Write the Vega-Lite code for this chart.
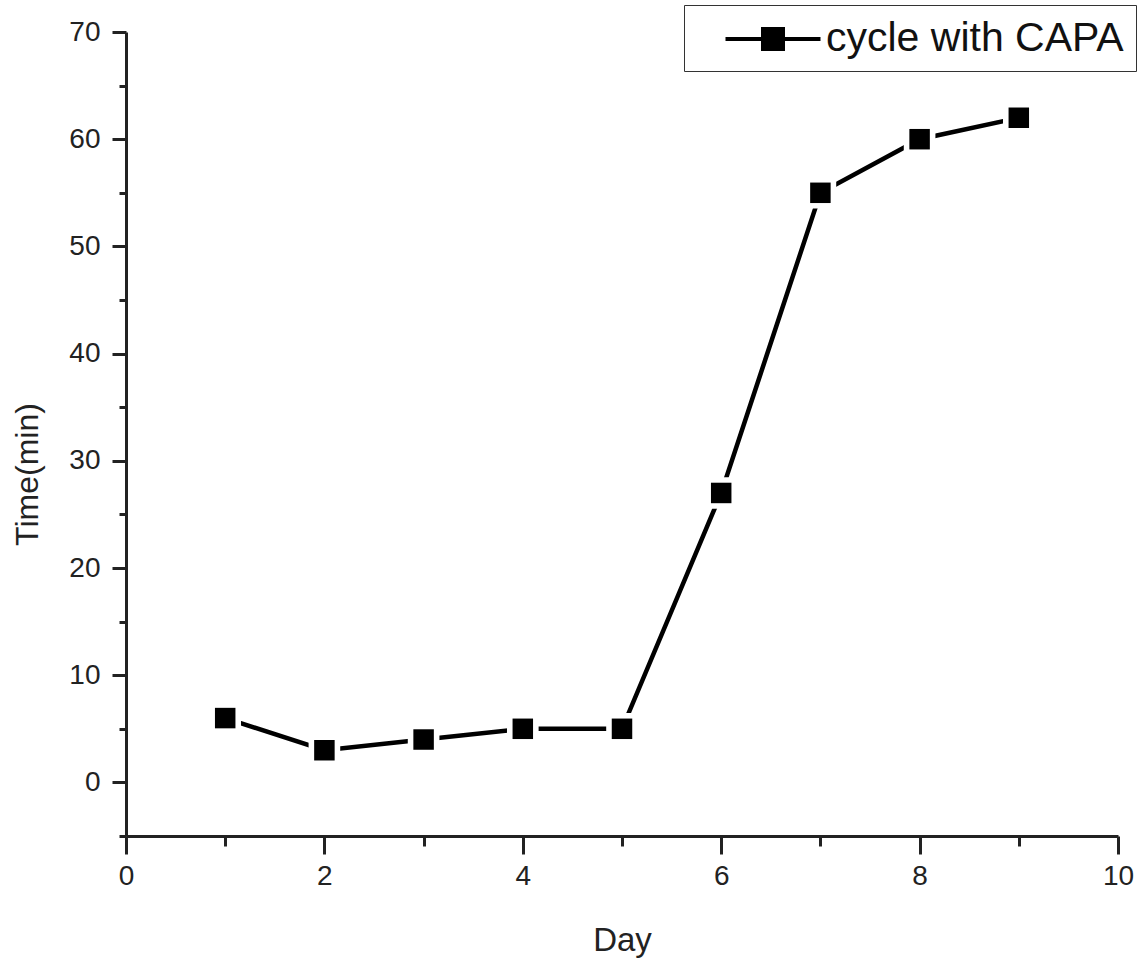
{
  "$schema": "https://vega.github.io/schema/vega-lite/v6.json",
  "width": 992,
  "height": 804,
  "autosize": {"type": "none"},
  "padding": {"left": 126, "top": 32, "right": 21, "bottom": 127},
  "background": "white",
  "config": {"view": {"stroke": null}, "font": "Liberation Sans"},
  "data": {
    "values": [
      {"day": 1, "time": 6, "series": "cycle with CAPA"},
      {"day": 2, "time": 3, "series": "cycle with CAPA"},
      {"day": 3, "time": 4, "series": "cycle with CAPA"},
      {"day": 4, "time": 5, "series": "cycle with CAPA"},
      {"day": 5, "time": 5, "series": "cycle with CAPA"},
      {"day": 6, "time": 27, "series": "cycle with CAPA"},
      {"day": 7, "time": 55, "series": "cycle with CAPA"},
      {"day": 8, "time": 60, "series": "cycle with CAPA"},
      {"day": 9, "time": 62, "series": "cycle with CAPA"}
    ]
  },
  "encoding": {
    "x": {
      "field": "day",
      "type": "quantitative",
      "scale": {"domain": [0, 10], "nice": false, "zero": false},
      "axis": {
        "values": [0, 1, 2, 3, 4, 5, 6, 7, 8, 9, 10],
        "labelExpr": "datum.value % 2 === 0 ? datum.label : ''",
        "tickSize": {"condition": {"test": "datum.value % 2 === 0", "value": 18}, "value": 10},
        "grid": false,
        "domainColor": "#222222",
        "domainWidth": 3,
        "tickColor": "#222222",
        "tickWidth": 3,
        "labelFontSize": 28,
        "labelColor": "#222222",
        "labelPadding": 8,
        "labelFlush": false,
        "labelOverlap": false,
        "labelBound": false,
        "title": "Day",
        "titleFontSize": 33,
        "titleFontWeight": "normal",
        "titleColor": "#222222",
        "titlePadding": 34
      }
    },
    "y": {
      "field": "time",
      "type": "quantitative",
      "scale": {"domain": [-5, 70], "nice": false, "zero": false},
      "axis": {
        "values": [-5, 0, 5, 10, 15, 20, 25, 30, 35, 40, 45, 50, 55, 60, 65, 70],
        "labelExpr": "datum.value % 10 === 0 ? datum.label : ''",
        "tickSize": {"condition": {"test": "datum.value % 10 === 0", "value": 14}, "value": 7},
        "grid": false,
        "domainColor": "#222222",
        "domainWidth": 3,
        "tickColor": "#222222",
        "tickWidth": 3,
        "labelFontSize": 28,
        "labelColor": "#222222",
        "labelPadding": 12,
        "labelFlush": false,
        "labelOverlap": false,
        "labelBound": false,
        "title": "Time(min)",
        "titleFontSize": 32,
        "titleFontWeight": "normal",
        "titleColor": "#222222",
        "titlePadding": 24,
        "titleY": 442
      }
    }
  },
  "layer": [
    {
      "mark": {"type": "line", "strokeWidth": 4.5},
      "encoding": {
        "color": {
          "field": "series",
          "type": "nominal",
          "scale": {"range": ["black"]},
          "legend": {
            "orient": "none",
            "legendX": 558,
            "legendY": -27,
            "title": null,
            "strokeColor": "#333333",
            "fillColor": "white",
            "padding": 12,
            "symbolType": "M-2.375,0H2.375M-0.5,-0.5H0.5V0.5H-0.5Z",
            "symbolSize": 1600,
            "symbolStrokeWidth": 4,
            "symbolStrokeColor": "black",
            "symbolFillColor": "black",
            "symbolOffset": 55,
            "labelFontSize": 41,
            "labelColor": "#111111",
            "labelOffset": 31,
            "labelLimit": 500
          }
        }
      }
    },
    {
      "mark": {"type": "point", "shape": "square", "filled": true, "color": "white", "size": 1000, "opacity": 1}
    },
    {
      "mark": {"type": "point", "shape": "square", "filled": true, "color": "black", "size": 420, "opacity": 1}
    }
  ]
}
